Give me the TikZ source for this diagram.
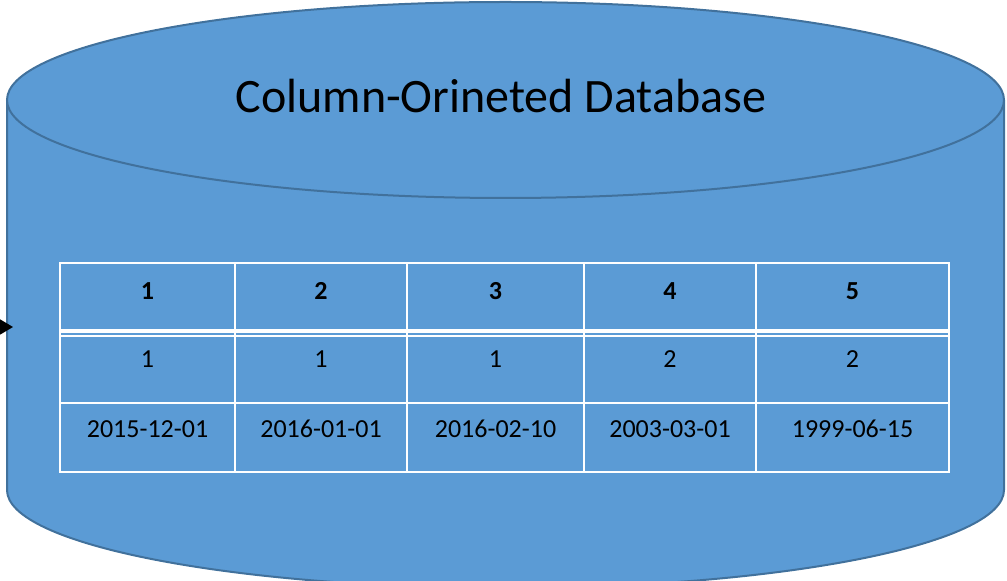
\documentclass[tikz,border=0pt]{standalone}
\usepackage{fontspec}
\setmainfont{Carlito}
\usetikzlibrary{arrows.meta}

\definecolor{dbfill}{HTML}{5B9BD5}
\definecolor{dbline}{HTML}{41719C}

\tikzset{
  dbbody/.style={fill=dbfill, draw=dbline, line width=2pt},
  grid/.style={draw=white, line width=1.6pt},
  headcell/.style={inner sep=0pt, anchor=base, font=\fontsize{26}{30}\selectfont\bfseries},
  datacell/.style={inner sep=0pt, anchor=base, font=\fontsize{26}{30}\selectfont},
  titletext/.style={inner sep=0pt, anchor=base, font=\fontsize{48}{58}\selectfont},
  pointer/.style={line width=1.5pt, -{Triangle[length=13pt,width=15pt]}}
}

\begin{document}
\begin{tikzpicture}[x=1pt,y=1pt]
  \useasboundingbox (0,0) rectangle (1007,581);
  \clip (0,0) rectangle (1007,581);

  % cylinder: side wall with lower rim, then the top face
  \path[fill=dbfill] (7,481) -- (7,91)
    arc[start angle=180, end angle=360, x radius=498.5pt, y radius=98pt]
    -- (1004,481) -- cycle;
  \draw[dbline, line width=2pt] (7,481) -- (7,91)
    arc[start angle=180, end angle=360, x radius=498.5pt, y radius=98pt]
    -- (1004,481);
  \path[dbbody] (505.5,481) ellipse [x radius=498.5pt, y radius=98pt];

  \node[titletext] (title) at (501,468) {Column-Orineted Database};

  % incoming pointer
  \coordinate (src) at (-30,254);
  \coordinate (dbwest) at (13,254);
  \draw[pointer] (src) -- (dbwest);

  % table grid
  \draw[grid] (60,318) rectangle (949,109);
  \foreach \cx in {235,407,584,756} \draw[grid] (\cx,318) -- (\cx,109);
  \draw[draw=white, line width=4pt] (60,250) -- (949,250);
  \draw[grid] (60,245) -- (949,245);
  \draw[grid] (60,178) -- (949,178);

  % header row
  \node[headcell] (h1) at (147.5,281.5) {1};
  \node[headcell] (h2) at (321,281.5) {2};
  \node[headcell] (h3) at (495.5,281.5) {3};
  \node[headcell] (h4) at (670,281.5) {4};
  \node[headcell] (h5) at (852.5,281.5) {5};

  % second row
  \node[datacell] (a1) at (147.5,213) {1};
  \node[datacell] (a2) at (321,213) {1};
  \node[datacell] (a3) at (495.5,213) {1};
  \node[datacell] (a4) at (670,213) {2};
  \node[datacell] (a5) at (852.5,213) {2};

  % date row
  \node[datacell] (d1) at (147.5,143) {2015-12-01};
  \node[datacell] (d2) at (321,143) {2016-01-01};
  \node[datacell] (d3) at (495.5,143) {2016-02-10};
  \node[datacell] (d4) at (670,143) {2003-03-01};
  \node[datacell] (d5) at (852.5,143) {1999-06-15};
\end{tikzpicture}
\end{document}
